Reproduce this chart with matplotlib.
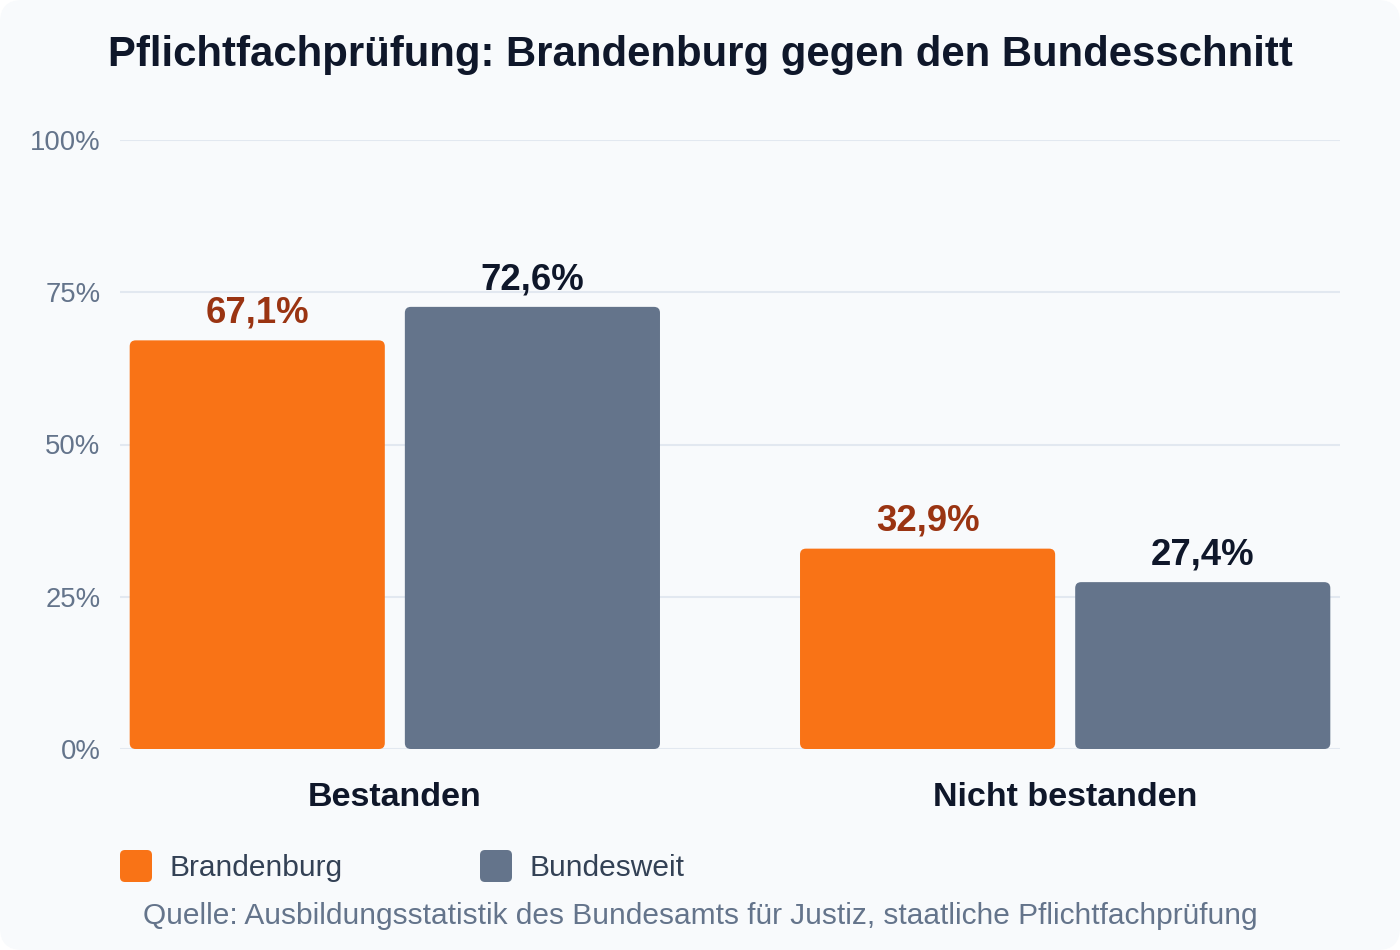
import matplotlib
matplotlib.use("Agg")
import matplotlib.pyplot as plt
from matplotlib.patches import FancyBboxPatch
import numpy as np

plt.rcParams['font.family'] = ['Liberation Sans', 'DejaVu Sans']

# data
categories = ["Bestanden", "Nicht bestanden"]
series_names = ["Brandenburg", "Bundesweit"]
brandenburg = [67.1, 32.9]
bundesweit = [72.6, 27.4]
y_ticks = [0, 25, 50, 75, 100]
title = "Pflichtfachprüfung: Brandenburg gegen den Bundesschnitt"
source = "Quelle: Ausbildungsstatistik des Bundesamts für Justiz, staatliche Pflichtfachprüfung"

bar_colors = ["#f97316", "#64748b"]
label_colors = ["#9a3412", "#0f172a"]

W, H = 1400, 950
fig = plt.figure(figsize=(W / 100, H / 100), dpi=100)
fig.patch.set_facecolor("white")

# card background
card = FancyBboxPatch((0, 0), W, H, boxstyle="round,pad=0,rounding_size=22",
                      transform=None, facecolor="#f8fafc", edgecolor="none", zorder=-5)
fig.patches.append(card)

ax = fig.add_axes([120 / W, 1 - 749 / H, 1220 / W, 609 / H])
ax.set_facecolor("none")
ax.set_zorder(2)

x = np.arange(len(categories))
bw = 0.3806
gap = 0.0299
ax.set_xlim(-0.41, 1.41)
ax.set_ylim(0, 100)

bars1 = ax.bar(x - (bw + gap) / 2, brandenburg, bw, color=bar_colors[0])
bars2 = ax.bar(x + (bw + gap) / 2, bundesweit, bw, color=bar_colors[1])

# round the bar corners
px_x = 1220 / (1.41 + 0.41)
px_y = 609 / 100
aspect = px_x / px_y
radius = 6 / px_x
for bars, col in [(bars1, bar_colors[0]), (bars2, bar_colors[1])]:
    for b in bars:
        b.set_visible(False)
        rb = FancyBboxPatch((b.get_x(), b.get_y()), b.get_width(), b.get_height(),
                            boxstyle=f"round,pad=0,rounding_size={radius}",
                            mutation_aspect=aspect, facecolor=col, edgecolor="none", zorder=3)
        ax.add_patch(rb)

for bars, vals, lc in [(bars1, brandenburg, label_colors[0]), (bars2, bundesweit, label_colors[1])]:
    for b, v in zip(bars, vals):
        ax.annotate(f"{v:.1f}%".replace(".", ","), (b.get_x() + b.get_width() / 2, v),
                    xytext=(0, 7), textcoords="offset points", ha="center", va="bottom",
                    fontsize=26.3, fontweight="bold", color=lc, zorder=4)

ax.set_yticks(y_ticks)
ax.set_yticklabels([f"{t}%" for t in y_ticks])
ax.set_xticks(x)
ax.set_xticklabels(categories, fontsize=24.5, fontweight="bold", color="#0f172a")
ax.tick_params(axis="y", length=0, pad=14, labelsize=19.8, labelcolor="#64748b")
ax.tick_params(axis="x", length=0, pad=23.5)
ax.grid(axis="y", color="#e2e8f0", linewidth=1.5, zorder=0)
ax.set_axisbelow(True)
for s in ax.spines.values():
    s.set_visible(False)

fig.text(0.5, 1 - 55 / H, title, ha="center", va="center", fontsize=30.2,
         fontweight="bold", color="#0f172a")

# legend
leg_x = [120, 480]
for lx, name, col in zip(leg_x, series_names, bar_colors):
    sq = FancyBboxPatch((lx, H - 882), 32, 32, boxstyle="round,pad=0,rounding_size=5",
                        transform=None, facecolor=col, edgecolor="none")
    fig.patches.append(sq)
    fig.text((lx + 49) / W, 1 - 868 / H, name, ha="left", va="center", fontsize=21.5,
             color="#334155")

fig.text(0.5, 1 - 915.5 / H, source, ha="center", va="center", fontsize=21.5, color="#64748b")

fig.savefig("out.png", dpi=100, facecolor=fig.get_facecolor())
